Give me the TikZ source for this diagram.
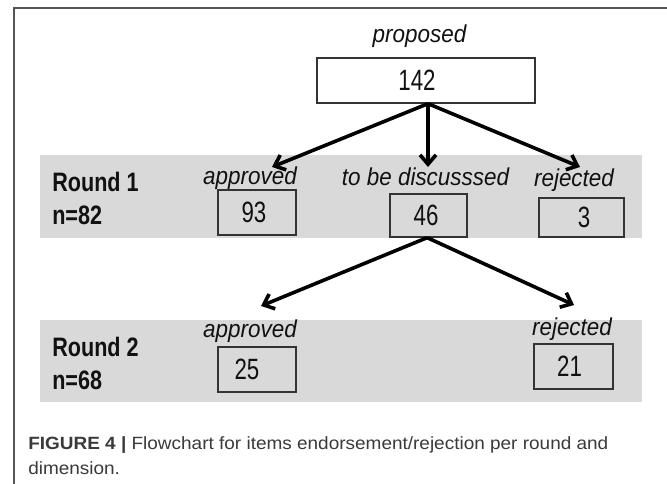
\documentclass[tikz,border=0pt]{standalone}
\usepackage{fontspec}
\setmainfont{Liberation Sans}
\newfontfamily\roundfont[FakeStretch=0.81]{Liberation Sans}
\newfontfamily\numfont[FakeStretch=0.76]{Liberation Sans}
\newfontfamily\labfont[FakeStretch=0.92]{Liberation Sans}
\newfontfamily\capfont[FakeStretch=1.07]{Liberation Sans}
\usetikzlibrary{arrows.meta}
\definecolor{bandgray}{HTML}{D9D9D9}
\definecolor{boxline}{HTML}{333333}
\definecolor{framegray}{HTML}{555555}
\definecolor{txt}{HTML}{111111}
\definecolor{captxt}{HTML}{3A3A3A}
\newcommand\shx[2]{\makebox[0pt]{\hspace*{#1}#2}}
\tikzset{
  band/.style={fill=bandgray, draw=none, inner sep=0pt, minimum width=451.5pt},
  numbox/.style={draw=boxline, line width=1pt, inner sep=0pt, text=txt,
    font=\numfont\fontsize{22pt}{22pt}\selectfont},
  lab/.style={anchor=base, inner sep=0pt, text=txt,
    font=\labfont\itshape\fontsize{18.3pt}{18.3pt}\selectfont},
  roundlab/.style={anchor=base west, inner sep=0pt, text=txt,
    font=\roundfont\bfseries\fontsize{20pt}{20pt}\selectfont},
  caplab/.style={anchor=base west, inner sep=0pt, text=captxt,
    font=\capfont\fontsize{13.3pt}{13.3pt}\selectfont},
  flow/.style={draw=black, line width=2.7pt, -{Straight Barb[length=7pt,width=12pt]}},
}
\begin{document}
\begin{tikzpicture}[x=0.75pt,y=-0.75pt]
\useasboundingbox (0,0) rectangle (667,484);
\fill[white] (0,0) rectangle (667,484);
% frame
\draw[framegray, line width=1.1pt] (14,484) -- (14,8) -- (667,8);
% bands
\node[band, minimum height=62.25pt] (band1) at (341,196.5) {};
\node[band, minimum height=61.5pt] (band2) at (341,361) {};
% top
\node[lab] (lprop) at (419.5,43) {proposed};
\node[numbox, fill=white, minimum width=163.5pt, minimum height=33.75pt] (n142) at (426,80.5) {\shx{-13.5pt}{142}};
% round 1
\node[roundlab] (r1) at (52,192) {Round 1};
\node[roundlab] (r1n) at (52,225) {n=82};
\node[lab] (lapp1) at (250,185) {approved};
\node[lab] (ldisc) at (425.5,186) {to be discusssed};
\node[lab] (lrej1) at (574,187) {rejected};
\node[numbox, minimum width=58.5pt, minimum height=33.75pt] (n93) at (257,212.5) {\shx{-4.5pt}{93}};
\node[numbox, minimum width=57.75pt, minimum height=32.25pt] (n46) at (428.5,215.5) {\shx{-3.75pt}{46}};
\node[numbox, minimum width=63.75pt, minimum height=29.25pt] (n3) at (581.5,217.5) {\shx{3.75pt}{3}};
% round 2
\node[roundlab] (r2) at (52,357) {Round 2};
\node[roundlab] (r2n) at (52,389) {n=68};
\node[lab] (lapp2) at (250,338) {approved};
\node[lab] (lrej2) at (572,335) {rejected};
\node[numbox, minimum width=58.5pt, minimum height=33.75pt] (n25) at (257,369.5) {\shx{-15pt}{25}};
\node[numbox, minimum width=59.25pt, minimum height=33.75pt] (n21) at (573.5,366.5) {\shx{-6pt}{21}};
% arrow tips
\coordinate (ta1) at (272,167);
\coordinate (ta2) at (428,167);
\coordinate (ta3) at (580,167);
\coordinate (tb1) at (261,306);
\coordinate (tb2) at (574,305);
\draw[flow] ([xshift=1.5pt]n142.south) -- (ta1);
\draw[flow] ([xshift=1.5pt]n142.south) -- (ta2);
\draw[flow] ([xshift=1.5pt]n142.south) -- (ta3);
\draw[flow] ([xshift=-1pt]n46.south) -- (tb1);
\draw[flow] ([xshift=-1pt]n46.south) -- (tb2);
% caption
\node[caplab] (cap1) at (28,449) {\textbf{FIGURE 4 |} Flowchart for items endorsement/rejection per round and};
\node[caplab] (cap2) at (28,474) {dimension.};
\end{tikzpicture}
\end{document}
